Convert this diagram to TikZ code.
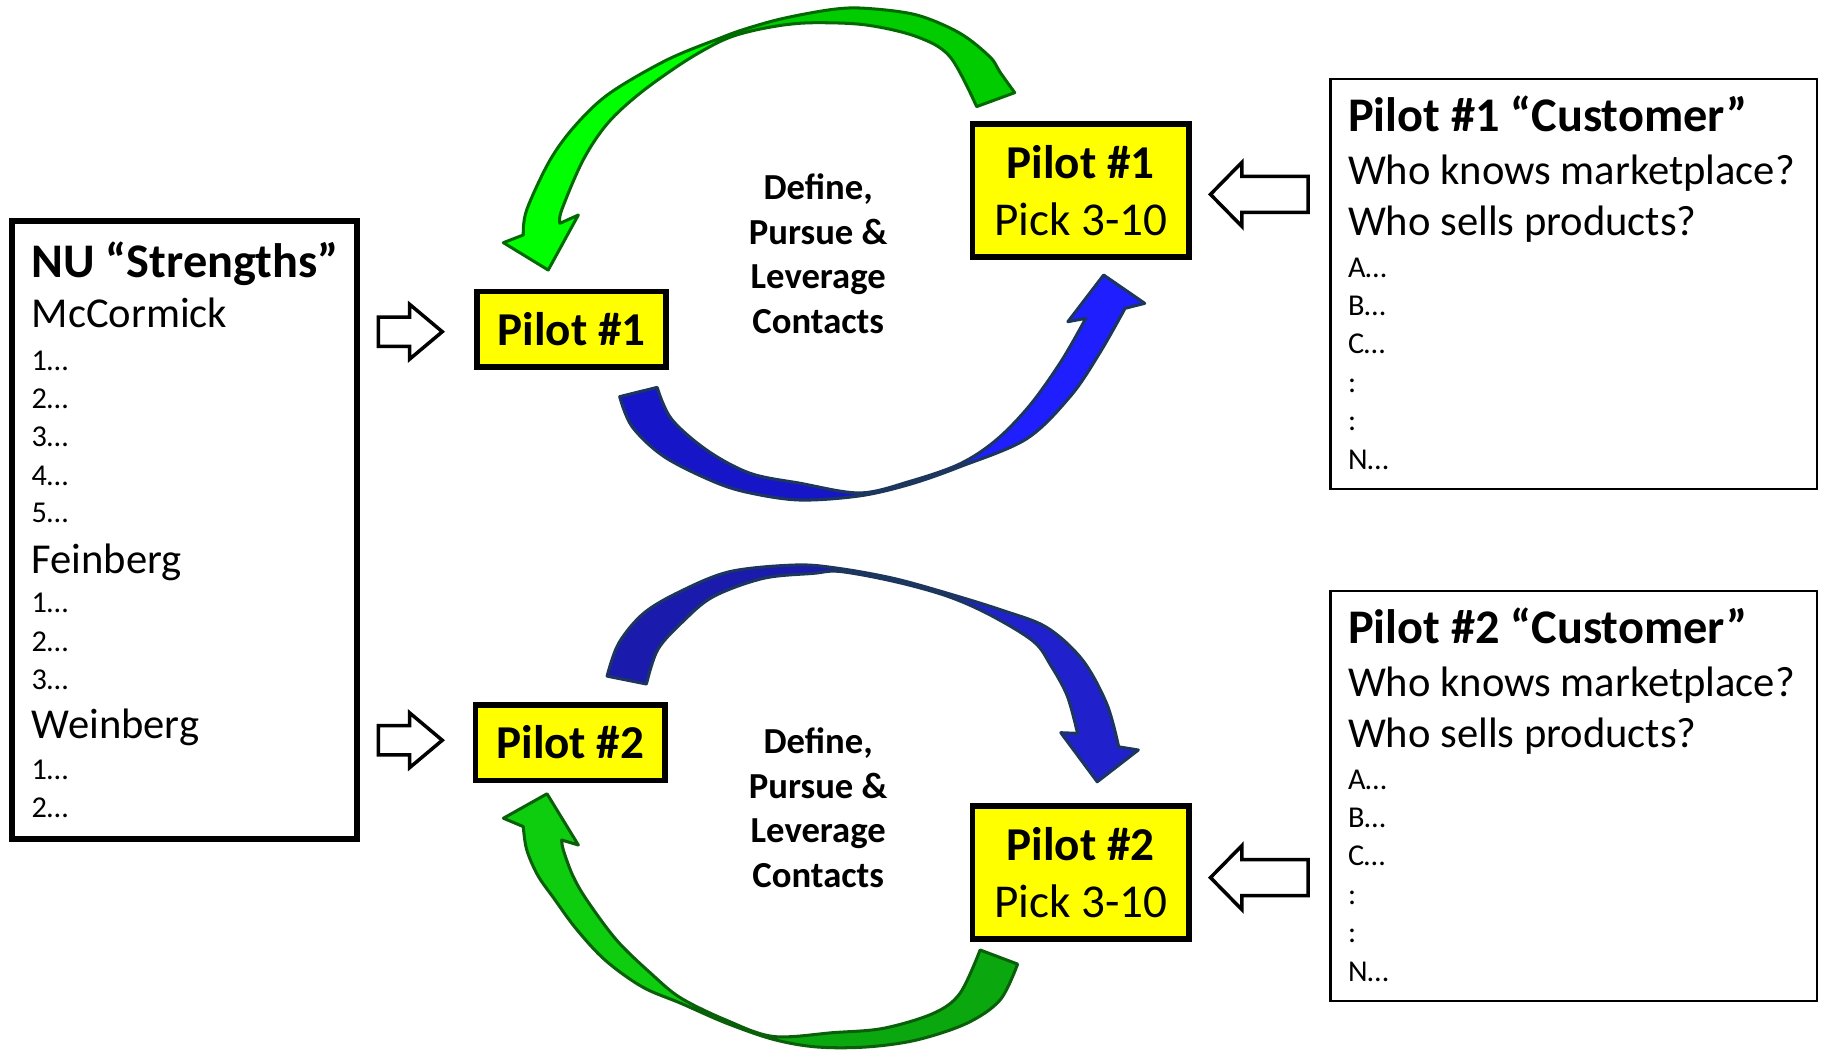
\documentclass[tikz,border=0pt]{standalone}
\usepackage{fontspec}
\setmainfont{Carlito}
\newcommand\setfs[2]{\fontsize{#1}{#2}\selectfont}
\definecolor{pyellow}{RGB}{255,255,0}
\definecolor{gOutA}{RGB}{0,105,0}
\definecolor{gDarkA}{RGB}{0,204,0}
\definecolor{gLightA}{RGB}{0,255,0}
\definecolor{gOutB}{RGB}{10,95,10}
\definecolor{gDarkB}{RGB}{10,168,14}
\definecolor{gLightB}{RGB}{14,205,14}
\definecolor{bOut}{RGB}{28,54,94}
\definecolor{bDarkA}{RGB}{22,22,200}
\definecolor{bLightA}{RGB}{30,30,255}
\definecolor{bDarkB}{RGB}{26,26,172}
\definecolor{bLightB}{RGB}{32,32,205}
% outlines of the four curved ribbon arrows (outer edge, head, inner edge)
\def\ribGA{(871.8,79.6)
  -- plot[smooth,tension=0.55] coordinates {(871.8,79.6) (859.2,62) (850.6,49) (824.8,28.6) (787.6,12.9) (744.6,7.2) (716,8) (673,15.8) (640,25) (618,33) (573,51.5) (524,80) (495,107) (472.6,137.5) (452.5,180.4) (449.6,201.9)}
  -- (432.5,208.5) -- (471,232) -- (496.9,184.7) -- (481.1,191.9)
  -- plot[smooth,tension=0.55] coordinates {(481.1,191.9) (482.6,180.4) (501,137.5) (522,106) (550,80) (588,53) (619,35.5) (642,27.5) (673,21.5) (701.7,19.5) (744.6,21.5) (787.6,31.5) (816.2,48.7) (839.1,91.6)}
  -- cycle}
\def\ribBA{(532.4,340.8)
  -- plot[smooth,tension=0.55] coordinates {(532.4,340.8) (543.1,366.6) (570.7,392.4) (613.7,414) (644.4,423.5) (687.4,429.6) (738.9,426) (782,416) (824.8,401) (882,377) (920,340) (945,303) (966.6,264.9)}
  -- (983.5,260.6) -- (948.2,236.3) -- (917.5,276.4) -- (932.9,273.5)
  -- plot[smooth,tension=0.55] coordinates {(932.9,273.5) (912,310) (885,348) (856,378) (824.8,398.5) (782,413.5) (738.9,423.5) (687.4,415.2) (644.4,406.6) (607.6,387) (576.9,360) (564.6,332.8)}
  -- cycle}
\def\ribBB{(521.6,580.9)
  -- plot[smooth,tension=0.55] coordinates {(521.6,580.9) (531.5,552.8) (552.9,527) (584.2,508.3) (627.2,491.1) (684.4,485.4) (721.7,488.5) (768,497) (813.3,509.5) (860,524) (899.2,539) (930,567) (951,605) (961.1,641.6)}
  -- (978,644.4) -- (942.7,671.7) -- (911.4,629.5) -- (925.8,630.1)
  -- plot[smooth,tension=0.55] coordinates {(925.8,630.1) (917,598) (903,572) (887.8,551) (850,528) (813.3,512) (768,499.5) (721.7,491) (698.8,492.6) (655.8,496.9) (612.8,512.6) (586.7,534) (565.2,558) (555.4,587.7)}
  -- cycle}
\def\ribGB{(874.3,828.3)
  -- plot[smooth,tension=0.55] coordinates {(874.3,828.3) (859.2,859.2) (830.6,879.2) (787.6,893.5) (744.7,899.5) (701.7,899.5) (664.5,893) (624,879) (585,862) (552,848) (520,825) (495,798) (476,772) (462,752) (452.5,730) (449.6,710.2)}
  -- (432.5,703) -- (470,682) -- (496.9,726) -- (482.6,721.7)
  -- plot[smooth,tension=0.55] coordinates {(482.6,721.7) (484,730.3) (492,752) (504,773) (530,808) (560,837) (585,857.5) (624,876.5) (664.5,890.5) (716,887.2) (759,883.5) (802,870.6) (824.8,853.4) (842.1,816.2)}
  -- cycle}
\begin{document}
\begin{tikzpicture}[x=1pt,y=-1pt,
  listbox/.style={draw=black,line width=5pt,minimum width=297pt,minimum height=531pt,inner sep=0pt},
  custbox/.style={draw=black,line width=2pt,minimum width=418pt,minimum height=352pt,inner sep=0pt},
  pilotbox/.style={draw=black,line width=5pt,fill=pyellow,inner sep=0pt,font=\setfs{40.5}{48}\bfseries},
  picktitle/.style={anchor=base,inner sep=0pt,font=\setfs{40.5}{48}\bfseries},
  pickline/.style={anchor=base,inner sep=0pt,font=\setfs{40.5}{48}},
  head/.style={anchor=base west,inner sep=0pt,font=\setfs{41.5}{48}\bfseries},
  sub/.style={anchor=base west,inner sep=0pt,font=\setfs{36.6}{43}},
  item/.style={anchor=base west,inner sep=0pt,font=\setfs{26}{31}},
  midtext/.style={align=center,inner sep=0pt,font=\setfs{31.5}{38.4}\bfseries},
  hollow/.style={draw=black,line width=3pt,fill=white,line join=miter},
  rib/.style={line width=2.6pt,line join=round}]
\useasboundingbox (0,0) rectangle (1568,903);

% ---------- left list of strengths ----------
\node[listbox] (nu) at (158.5,455.5) {};
\node[head] (nuT) at (27,238) {NU “Strengths”};
\node[sub] (mcc) at (27,281) {McCormick};
\foreach \y [count=\i] in {318,351,384,417,449}
  \node[item] (mc\i) at (27,\y) {\i…};
\node[sub] (fei) at (27,492.5) {Feinberg};
\foreach \y [count=\i] in {526.5,559.5,592.5}
  \node[item] (fe\i) at (27,\y) {\i…};
\node[sub] (wei) at (27,634.5) {Weinberg};
\foreach \y [count=\i] in {669.5,702.5}
  \node[item] (we\i) at (27,\y) {\i…};

% ---------- hollow arrows into the pilots ----------
\path[hollow] (325,272.5) -- (352,272.5) -- (352,261.5) -- (380,285) -- (352,308.5)
  -- (352,297.5) -- (325,297.5) -- cycle;
\path[hollow] (325,623.5) -- (352,623.5) -- (352,612.5) -- (380,636) -- (352,659.5)
  -- (352,648.5) -- (325,648.5) -- cycle;

% ---------- pilot boxes ----------
\node[pilotbox,minimum width=163pt,minimum height=65pt] (p1) at (491,283) {Pilot \#1};
\node[pilotbox,minimum width=163pt,minimum height=65pt] (p2) at (490,638) {Pilot \#2};
\node[pilotbox,minimum width=186pt,minimum height=114pt] (k1) at (928.5,163.5) {};
\node[picktitle] (k1a) at (928.5,153) {Pilot \#1};
\node[pickline] (k1b) at (928.5,202) {Pick 3-10};
\node[pilotbox,minimum width=186pt,minimum height=114pt] (k2) at (928.5,749.5) {};
\node[picktitle] (k2a) at (928.5,739) {Pilot \#2};
\node[pickline] (k2b) at (928.5,788.5) {Pick 3-10};

% ---------- centre labels ----------
\node[midtext] (m1) at (703,218) {Define,\\Pursue \&\\Leverage\\Contacts};
\node[midtext] (m2) at (703,694) {Define,\\Pursue \&\\Leverage\\Contacts};

% ---------- hollow arrows from the customer lists ----------
\path[hollow] (1040,167) -- (1067,139.5) -- (1067,151.5) -- (1124,151.5) -- (1124,182.5)
  -- (1067,182.5) -- (1067,194.5) -- cycle;
\path[hollow] (1040,754) -- (1067,726.5) -- (1067,738.5) -- (1124,738.5) -- (1124,769.5)
  -- (1067,769.5) -- (1067,781.5) -- cycle;

% ---------- customer lists ----------
\node[custbox] (c1) at (1352,244) {};
\node[head] (c1T) at (1158,113) {Pilot \#1 “Customer”};
\node[sub] (c1a) at (1158,158.5) {Who knows marketplace?};
\node[sub] (c1b) at (1158,202.5) {Who sells products?};
\foreach \t/\y [count=\i] in {A…/238,B…/271,C…/304,:/337,:/370,N…/403}
  \node[item] (c1i\i) at (1158,\y) {\t};
\node[custbox] (c2) at (1352,684) {};
\node[head] (c2T) at (1158,553) {Pilot \#2 “Customer”};
\node[sub] (c2a) at (1158,598.5) {Who knows marketplace?};
\node[sub] (c2b) at (1158,642.5) {Who sells products?};
\foreach \t/\y [count=\i] in {A…/678,B…/711,C…/744,:/777,:/810,N…/843}
  \node[item] (c2i\i) at (1158,\y) {\t};

% ---------- curved ribbon arrows: light face, darker back face, outline ----------
% loop 1, green: from the pick box back over the top to pilot 1
\fill[gLightA] \ribGA;
\begin{scope}
  \clip (632,-20) rectangle (900,130);
  \fill[gDarkA] \ribGA;
\end{scope}
\draw[rib,gOutA] \ribGA;
% loop 1, blue: from pilot 1 under the label up to the pick box
\fill[bLightA] \ribBA;
\begin{scope}
  \clip (500,300) rectangle (780,450);
  \fill[bDarkA] \ribBA;
\end{scope}
\draw[rib,bOut] \ribBA;
% loop 2, blue: from pilot 2 over the top down to the pick box
\fill[bLightB] \ribBB;
\begin{scope}
  \clip (500,470) rectangle (768,610);
  \fill[bDarkB] \ribBB;
\end{scope}
\draw[rib,bOut] \ribBB;
% loop 2, green: from the pick box under the label back up to pilot 2
\fill[gLightB] \ribGB;
\begin{scope}
  \clip (640,800) rectangle (900,920);
  \fill[gDarkB] \ribGB;
\end{scope}
\draw[rib,gOutB] \ribGB;
\end{tikzpicture}
\end{document}
